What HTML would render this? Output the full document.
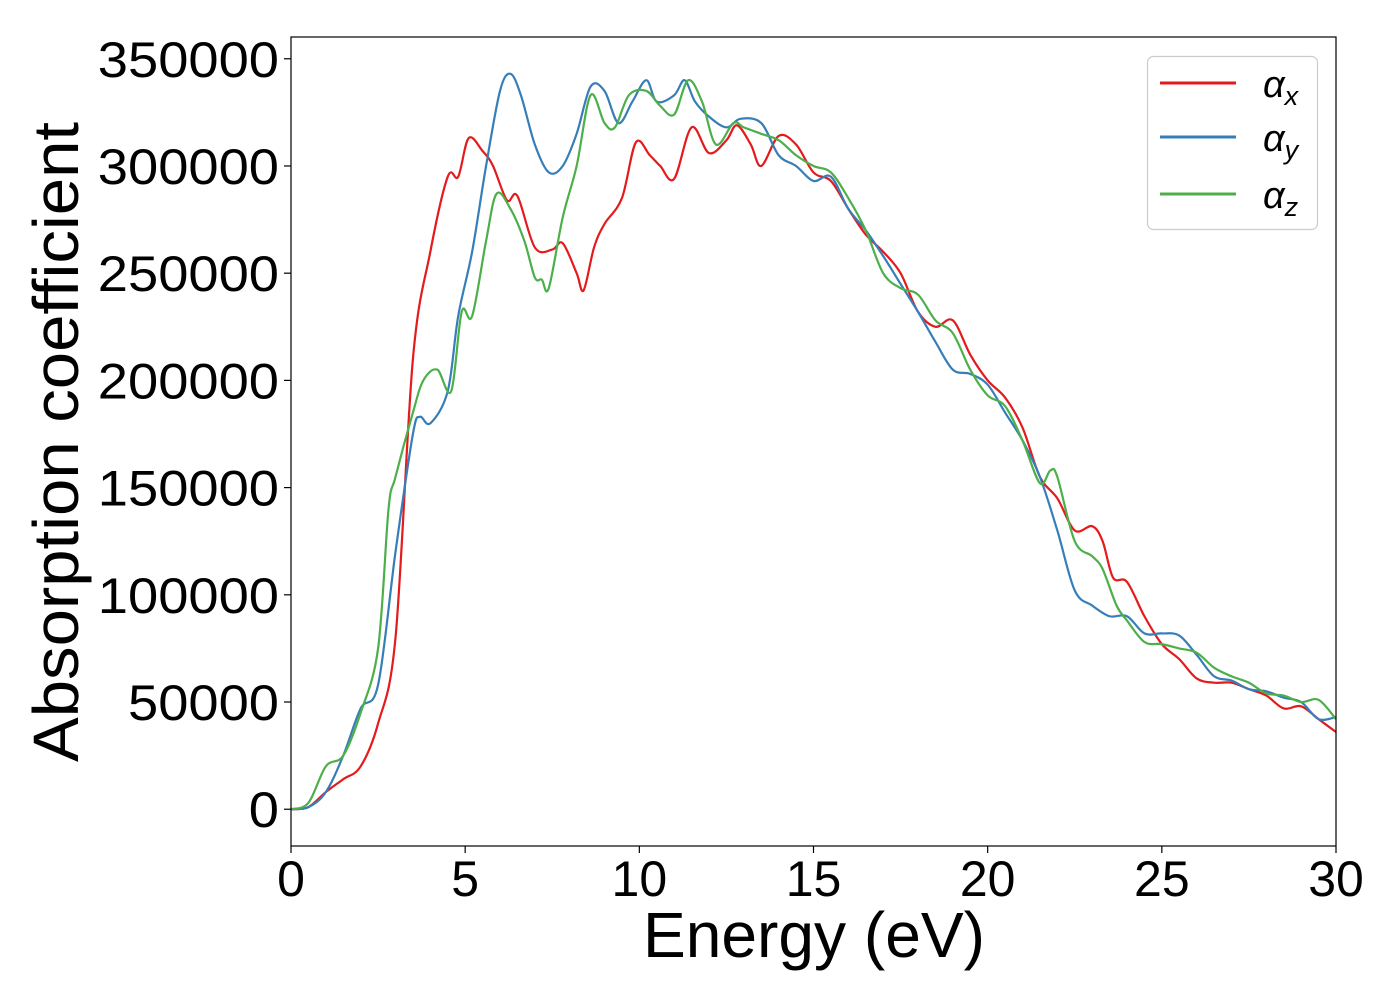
<!DOCTYPE html>
<html><head><meta charset="utf-8"><style>
body{margin:0;background:#fff;}
svg{display:block;font-family:"Liberation Sans","DejaVu Sans",sans-serif;}
</style></head><body>
<svg id="chart" width="1400" height="1000" viewBox="0 0 1400 1000">
<g id="series"></g>
<rect x="291" y="37" width="1045" height="809" fill="none" stroke="#000" stroke-width="1.2"/>
<g id="ticks"></g>
<text x="643" y="957" font-size="64" textLength="342" lengthAdjust="spacingAndGlyphs">Energy (eV)</text>
<text transform="translate(78,762) rotate(-90)" font-size="64" textLength="640" lengthAdjust="spacingAndGlyphs">Absorption coefficient</text>
<g>
<rect x="1147.5" y="56.5" width="170" height="173" rx="6" fill="#fff" stroke="#ccc" stroke-width="1.2"/>
<g><line x1="1160" x2="1236" y1="83" y2="83" stroke="#e41a1c" stroke-width="3"/><text x="1263" y="97" font-size="38" font-style="italic">α<tspan font-size="27" dy="8">x</tspan></text></g>
<g><line x1="1160" x2="1236" y1="137" y2="137" stroke="#377eb8" stroke-width="3"/><text x="1263" y="151" font-size="38" font-style="italic">α<tspan font-size="27" dy="8">y</tspan></text></g>
<g><line x1="1160" x2="1236" y1="194" y2="194" stroke="#4daf4a" stroke-width="3"/><text x="1263" y="208" font-size="38" font-style="italic">α<tspan font-size="27" dy="8">z</tspan></text></g>
</g>
</svg>
<script>
const xTicks=[0,5,10,15,20,25,30];
const yTicks=[0,50000,100000,150000,200000,250000,300000,350000];
const xData=[0,0.5,1,1.5,2,2.5,3,3.5,4,4.5,4.8,5.1,5.5,5.8,6.2,6.5,7,7.5,7.8,8.2,8.4,8.7,9,9.5,9.9,10.3,10.6,11,11.5,12,12.5,12.8,13.2,13.5,14,14.5,15,15.5,16,16.5,17,17.5,18,18.5,19,19.5,20,20.5,21,21.5,22,22.5,23,23.3,23.6,24,24.5,25,25.5,26,26.5,27,27.5,28,28.5,29,29.5,30];
const alphaX=[0,1000,8000,14000,20000,40000,80000,210000,260000,295000,295000,313000,307000,300000,284000,286000,262000,261000,264000,250000,242000,262000,273000,285000,311000,305000,300000,294000,318000,306000,312000,319000,310000,300000,314000,310000,297000,293000,280000,268000,260000,250000,232000,225000,228000,212000,200000,192000,178000,155000,145000,130000,132000,125000,108000,106000,90000,77000,70000,61000,59000,59000,56000,53000,47000,48000,42000,36000];
const yData=[0,0.5,1,1.5,2,2.5,3,3.5,3.7,4,4.5,4.8,5.2,5.6,6,6.3,6.6,7,7.4,7.8,8.2,8.6,9,9.4,9.8,10.2,10.5,11,11.3,11.6,12,12.5,12.9,13.5,14,14.5,15,15.5,16,16.5,17,17.5,18,18.5,19,19.5,20,20.5,21,21.5,22,22.5,23,23.5,24,24.5,25,25.5,26,26.5,27,27.5,28,28.5,29,29.5,30];
const alphaY=[0,1000,8000,25000,47000,58000,120000,175000,183000,180000,195000,230000,260000,300000,335000,343000,333000,310000,297000,300000,315000,337000,335000,320000,330000,340000,330000,333000,340000,330000,323000,318000,322000,320000,305000,300000,293000,295000,280000,270000,258000,245000,232000,218000,205000,203000,198000,185000,172000,155000,130000,102000,95000,90000,90000,82000,82000,81000,72000,62000,60000,56000,55000,52000,50000,42000,43000];
const zData=[0,0.5,1,1.5,2,2.5,2.8,3,3.5,3.8,4.2,4.6,4.9,5.2,5.6,5.9,6.3,6.7,7,7.2,7.4,7.8,8.2,8.6,9,9.3,9.7,10.2,10.6,11,11.4,11.8,12.2,12.7,13,13.5,14,14.5,15,15.5,16,16.5,17,17.5,18,18.5,19,19.5,20,20.5,21,21.5,21.8,22,22.5,23,23.3,23.7,24,24.5,25,25.5,26,26.5,27,27.5,28,28.5,29,29.5,30];
const alphaZ=[0,3000,20000,25000,45000,75000,140000,155000,185000,200000,205000,195000,232000,230000,265000,287000,280000,265000,248000,247000,243000,276000,300000,333000,320000,318000,333000,335000,328000,324000,340000,330000,310000,320000,318000,315000,312000,305000,300000,297000,285000,270000,250000,243000,240000,228000,222000,205000,193000,188000,172000,152000,158000,155000,125000,118000,112000,95000,88000,78000,77000,75000,73000,66000,62000,59000,54000,53000,50000,51000,42000];
const L=291,R=1336,T=37,B=846,XMIN=0,XMAX=30,YMIN=-17150,YMAX=360150;
const sx=v=>L+(v-XMIN)/(XMAX-XMIN)*(R-L);
const sy=v=>B-(v-YMIN)/(YMAX-YMIN)*(B-T);
const NS='http://www.w3.org/2000/svg';
function pathD(xs,ys){
 const p=xs.map((x,i)=>[sx(x),sy(ys[i])]);
 let d='M'+p[0][0]+','+p[0][1];
 for(let i=0;i<p.length-1;i++){
  const p0=p[Math.max(0,i-1)],p1=p[i],p2=p[i+1],p3=p[Math.min(p.length-1,i+2)];
  const c1=[p1[0]+(p2[0]-p0[0])/6,p1[1]+(p2[1]-p0[1])/6];
  const c2=[p2[0]-(p3[0]-p1[0])/6,p2[1]-(p3[1]-p1[1])/6];
  d+=' C'+c1+' '+c2+' '+p2;
 }
 return d;
}
const g=document.getElementById('series');
[[xData,alphaX,'#e41a1c','alpha-x-line'],[yData,alphaY,'#377eb8','alpha-y-line'],[zData,alphaZ,'#4daf4a','alpha-z-line']].forEach(s=>{
 const el=document.createElementNS(NS,'path');
 el.setAttribute('d',pathD(s[0],s[1]));
 el.setAttribute('fill','none');el.setAttribute('stroke',s[2]);el.setAttribute('stroke-width','2.2');
 
 
 g.appendChild(el);
});
const tg=document.getElementById('ticks');
xTicks.forEach(t=>{
 const l=document.createElementNS(NS,'line');
 l.setAttribute('x1',sx(t));l.setAttribute('x2',sx(t));l.setAttribute('y1',B);l.setAttribute('y2',B+7);l.setAttribute('stroke','#000');l.setAttribute('stroke-width','1.2');
 
 
 tg.appendChild(l);
 const tx=document.createElementNS(NS,'text');
 tx.setAttribute('x',sx(t));tx.setAttribute('y',B+50);tx.setAttribute('font-size','50');tx.setAttribute('text-anchor','middle');
 tx.textContent=t;
 
 
 tg.appendChild(tx);
});
yTicks.forEach(t=>{
 const l=document.createElementNS(NS,'line');
 l.setAttribute('x1',L-7);l.setAttribute('x2',L);l.setAttribute('y1',sy(t));l.setAttribute('y2',sy(t));l.setAttribute('stroke','#000');l.setAttribute('stroke-width','1.2');
 
 
 tg.appendChild(l);
 const tx=document.createElementNS(NS,'text');
 tx.setAttribute('x',L-12);tx.setAttribute('y',sy(t)+18);tx.setAttribute('font-size','50');tx.setAttribute('text-anchor','end');
 tx.setAttribute('textLength', String(t).length*30.2);
 tx.setAttribute('lengthAdjust','spacingAndGlyphs');
 tx.textContent=t;
 
 
 tg.appendChild(tx);
});
</script>
</body></html>
